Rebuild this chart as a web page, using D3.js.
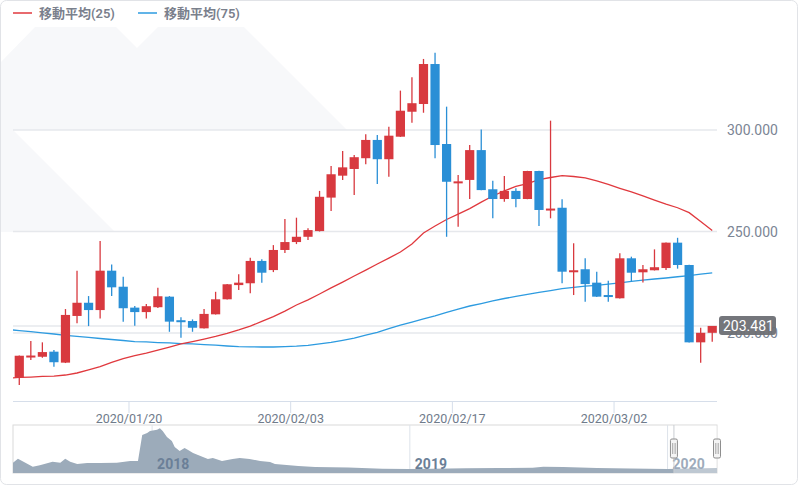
<!DOCTYPE html>
<html>
<head>
<meta charset="utf-8">
<script src="https://cdn.jsdelivr.net/npm/d3@7"></script>
<style>
    body { margin: 0; background: #ffffff; }
    svg { display: block; font-family: "Helvetica Neue", Roboto, "Noto Sans CJK JP", sans-serif; }
</style>
</head>
<body>
<script>
// daily candles, 2020/01/10 - 2020/03/10
const dates = [
    "2020-01-10", "2020-01-11", "2020-01-12", "2020-01-13", "2020-01-14", "2020-01-15", "2020-01-16", "2020-01-17",
    "2020-01-18", "2020-01-19", "2020-01-20", "2020-01-21", "2020-01-22", "2020-01-23", "2020-01-24", "2020-01-25",
    "2020-01-26", "2020-01-27", "2020-01-28", "2020-01-29", "2020-01-30", "2020-01-31",
    "2020-02-01", "2020-02-02", "2020-02-03", "2020-02-04", "2020-02-05", "2020-02-06", "2020-02-07", "2020-02-08",
    "2020-02-09", "2020-02-10", "2020-02-11", "2020-02-12", "2020-02-13", "2020-02-14", "2020-02-15", "2020-02-16",
    "2020-02-17", "2020-02-18", "2020-02-19", "2020-02-20", "2020-02-21", "2020-02-22", "2020-02-23", "2020-02-24",
    "2020-02-25", "2020-02-26", "2020-02-27", "2020-02-28", "2020-02-29",
    "2020-03-01", "2020-03-02", "2020-03-03", "2020-03-04", "2020-03-05", "2020-03-06", "2020-03-07", "2020-03-08",
    "2020-03-09", "2020-03-10"
];
const opens = [
    178.0, 188.4, 188.3, 190.8, 185.4, 208.4, 214.9, 211.3, 230.7, 222.8,
    212.5, 210.3, 212.7, 217.9, 206.3, 205.9, 202.3, 209.2, 216.6, 223.6,
    224.5, 235.5, 231.0, 240.9, 244.8, 247.4, 250.2, 266.7, 277.5, 280.8,
    286.1, 295.1, 285.6, 296.7, 309.0, 312.8, 332.5, 293.1, 274.4, 275.4,
    290.1, 270.8, 266.0, 270.0, 266.0, 279.8, 260.8, 261.7, 230.5, 231.4,
    224.8, 218.7, 217.1, 236.8, 229.9, 230.9, 232.0, 244.5, 233.5, 195.4,
    200.1
];
const highs = [
    188.9, 196.0, 195.4, 191.6, 211.8, 230.7, 218.2, 245.3, 233.8, 227.7,
    213.3, 214.3, 222.3, 218.2, 207.7, 206.7, 211.8, 220.3, 224.1, 228.9,
    237.1, 236.3, 243.3, 256.2, 256.8, 251.6, 270.0, 282.3, 289.7, 287.7,
    297.9, 297.5, 301.6, 319.4, 326.0, 335.0, 338.1, 311.5, 277.8, 292.6,
    300.3, 275.0, 277.3, 271.3, 279.9, 279.9, 304.6, 265.9, 244.2, 236.8,
    230.2, 225.8, 239.3, 237.6, 233.5, 241.2, 244.6, 246.9, 233.6, 202.6,
    203.5
];
const lows = [
    174.4, 186.7, 187.8, 183.4, 185.2, 204.8, 203.4, 207.2, 218.2, 205.6,
    203.6, 207.2, 212.3, 200.6, 197.7, 200.6, 202.2, 209.1, 216.5, 221.2,
    219.6, 224.8, 230.0, 239.4, 243.8, 245.8, 250.0, 260.1, 275.4, 268.0,
    283.1, 273.4, 277.0, 296.6, 303.6, 308.5, 286.1, 247.4, 252.4, 266.0,
    270.3, 256.5, 264.7, 261.9, 265.9, 252.7, 256.5, 224.5, 218.7, 215.4,
    217.7, 215.4, 217.0, 225.3, 224.9, 230.8, 231.0, 231.7, 195.3, 185.4,
    195.7
];
const closes = [
    188.8, 188.9, 190.6, 185.6, 208.9, 214.9, 211.3, 230.7, 222.5, 212.2,
    210.3, 213.2, 218.1, 205.6, 205.9, 202.6, 209.4, 216.6, 224.0, 224.8,
    235.5, 229.7, 240.9, 244.8, 247.4, 250.7, 267.1, 278.2, 281.6, 286.6,
    295.1, 285.6, 297.2, 309.5, 313.2, 332.5, 292.6, 274.5, 274.7, 290.1,
    270.4, 266.0, 270.0, 266.0, 279.8, 260.6, 261.3, 230.2, 230.9, 224.1,
    217.9, 218.2, 236.8, 229.7, 231.4, 232.4, 244.5, 233.5, 195.4, 200.1,
    203.481
];

// moving averages start one day earlier (line runs in from the left edge)
const maDates = ["2020-01-09"].concat(dates);
const ma25 = [
    177.8, 178.1, 178.3, 178.6, 178.8, 179.3, 180.3, 181.8, 183.4, 185.5,
    187.4, 188.9, 190.1, 191.6, 193.1, 194.6, 195.8, 197.0, 198.3, 199.8,
    201.5, 203.4, 205.7, 208.1, 210.8, 213.8, 216.3, 219.2, 222.2, 225.1,
    228.1, 231.0, 234.0, 236.9, 239.9, 243.8, 249.3, 252.7, 255.9, 258.6,
    261.3, 264.5, 267.5, 270.0, 272.2, 273.6, 275.6, 276.6, 277.5, 277.1,
    276.4, 274.9, 273.2, 271.3, 269.5, 267.5, 265.5, 263.5, 261.7, 259.3,
    254.9, 250.5
];
const ma75 = [
    201.7, 201.2, 200.7, 200.1, 199.5, 198.8, 198.3, 197.8, 197.3, 196.8,
    196.3, 195.8, 195.6, 195.3, 195.1, 194.8, 194.6, 194.3, 194.0, 193.6,
    193.3, 193.2, 193.1, 193.1, 193.3, 193.5, 193.9, 194.6, 195.4, 196.4,
    197.5, 198.9, 200.3, 202.1, 203.9, 205.4, 206.9, 208.4, 210.1, 211.8,
    213.3, 214.5, 215.8, 217.0, 218.0, 219.0, 220.0, 220.9, 221.9, 222.5,
    223.1, 223.5, 224.1, 224.7, 225.4, 226.0, 226.6, 227.1, 227.7, 228.3,
    229.0, 229.6
];

const legendLabels = ["移動平均(25)", "移動平均(75)"];
const xTickDates = ["2020-01-20", "2020-02-03", "2020-02-17", "2020-03-02"];
const yTickValues = [200, 250, 300];
const lastPrice = 203.481;

// navigator (long history)
const navDates = [
    "2017-06-18", "2017-06-25", "2017-07-16", "2017-07-26", "2017-08-13", "2017-08-24", "2017-08-31", "2017-09-07",
    "2017-09-17", "2017-10-01", "2017-10-19", "2017-11-12", "2017-12-01", "2017-12-12", "2017-12-18", "2017-12-25",
    "2017-12-29", "2018-01-08", "2018-01-12", "2018-01-16", "2018-01-22", "2018-01-29", "2018-02-02", "2018-02-09",
    "2018-02-16", "2018-02-21", "2018-02-28", "2018-03-07", "2018-03-14", "2018-03-21", "2018-03-28", "2018-04-10",
    "2018-04-25", "2018-05-05", "2018-05-19", "2018-06-03", "2018-06-17", "2018-06-24", "2018-07-27", "2018-08-20",
    "2018-10-06", "2018-11-23", "2018-12-30", "2019-02-02", "2019-03-21", "2019-05-07", "2019-06-24", "2019-07-09",
    "2019-08-06", "2019-09-23", "2019-11-09", "2020-01-01", "2020-02-02", "2020-03-11"
];
const navValues = [
    309, 429, 189, 231, 339, 309, 429, 339,
    270, 300, 300, 309, 360, 360, 1140, 1200,
    1260, 1299, 1341, 1260, 1080, 960, 780, 660,
    750, 690, 600, 540, 480, 420, 450, 360,
    420, 450, 420, 360, 330, 270, 210, 180,
    165, 129, 120, 129, 141, 150, 159, 189,
    180, 150, 135, 120, 135, 150
];
const navYears = ["2018-01-01", "2019-01-01", "2020-01-01"];
const navRange = ["2020-01-10", "2020-03-11"];

let chartHelper = (function () {
    const parse = d3.timeParse("%Y-%m-%d");
    const red = "#d8393f";
    const blue = "#2a8fd6";
    const plot = { left: 13, right: 718, top: 27, bottom: 401 };
    let svg = {};

    function init() {
        svg = d3.select("body").append("svg")
            .attr("width", 800)
            .attr("height", 486);
    }

    function draw() {
        const candles = dates.map((d, i) => ({
            date: parse(d), o: opens[i], h: highs[i], l: lows[i], c: closes[i]
        }));

        const x = d3.scaleTime()
            .domain([parse(dates[0]), d3.timeDay.offset(parse(dates[dates.length - 1]), 1)])
            .range([13.5, 718]);
        const y = d3.scaleLinear().domain([200, 300]).range([333, 130]);
        const mid = d => x(d3.timeHour.offset(d, 12));

        // card + faint background shapes
        svg.append("rect")
            .attr("x", 0.5).attr("y", 0.5)
            .attr("width", 797).attr("height", 484)
            .attr("rx", 6)
            .style("fill", "#ffffff")
            .style("stroke", "#e1e3e7");

        svg.append("path")
            .attr("d", "M1,62 L35,27 L116,27 L137,48 L158,27 L244,27 L347,130 L13,130 L115,232 L1,232 Z")
            .style("fill", "#f7f8fa");

        let clip = svg.append("clipPath").attr("id", "plotClip")
            .append("rect")
            .attr("x", plot.left).attr("y", plot.top)
            .attr("width", plot.right - plot.left).attr("height", plot.bottom - plot.top);

        // grid
        svg.selectAll(".grid")
            .data(yTickValues)
            .enter()
            .append("line")
            .attr("x1", plot.left).attr("x2", 717)
            .attr("y1", d => y(d)).attr("y2", d => y(d))
            .style("stroke", "#e6e8ec")
            .style("stroke-width", 1.5);

        svg.append("line")
            .attr("x1", plot.left).attr("x2", 717)
            .attr("y1", y(lastPrice)).attr("y2", y(lastPrice))
            .style("stroke", "#e6e8ec")
            .style("stroke-width", 1.5);

        svg.selectAll(".ylabel")
            .data(yTickValues)
            .enter()
            .append("text")
            .attr("x", 727)
            .attr("y", d => y(d))
            .attr("dy", "0.36em")
            .style("font-size", "14px")
            .style("fill", "#7b8594")
            .text(d => d3.format(".3f")(d));

        let g = svg.append("g").attr("clip-path", "url(#plotClip)");

        // moving averages
        const line = d3.line()
            .x(d => mid(d.date))
            .y(d => y(d.v));
        const ma25Data = maDates.map((d, i) => ({ date: parse(d), v: ma25[i] }));
        const ma75Data = maDates.map((d, i) => ({ date: parse(d), v: ma75[i] }));

        g.append("path").datum(ma75Data)
            .attr("d", line)
            .style("fill", "none")
            .style("stroke", "#2d9be0")
            .style("stroke-width", 1.3);
        g.append("path").datum(ma25Data)
            .attr("d", line)
            .style("fill", "none")
            .style("stroke", "#e0393e")
            .style("stroke-width", 1.3);

        // candles
        let candle = g.selectAll(".candle")
            .data(candles)
            .enter()
            .append("g")
            .attr("class", "candle");

        candle.append("line")
            .attr("x1", d => mid(d.date)).attr("x2", d => mid(d.date))
            .attr("y1", d => y(d.h)).attr("y2", d => y(d.l))
            .style("stroke", d => d.c >= d.o ? red : blue)
            .style("stroke-width", 1.3);

        candle.append("rect")
            .attr("x", d => mid(d.date) - 4.6)
            .attr("width", 9.2)
            .attr("y", d => Math.min(y(d.o), y(d.c)))
            .attr("height", d => Math.max(2, Math.abs(y(d.o) - y(d.c))))
            .style("fill", d => d.c >= d.o ? red : blue);

        // last price tag
        svg.append("rect")
            .attr("x", 719).attr("y", y(lastPrice) - 10)
            .attr("width", 57).attr("height", 19)
            .attr("rx", 3)
            .style("fill", "#6d6f74")
            .style("opacity", 0.95);
        svg.append("text")
            .attr("x", 723).attr("y", y(lastPrice))
            .attr("dy", "0.36em")
            .style("font-size", "14px")
            .style("fill", "#ffffff")
            .text(d3.format(".3f")(lastPrice));

        // legend
        const legendColors = ["#e0393e", "#2d9be0"];
        const legendX = [13, 138];
        legendLabels.forEach((label, i) => {
            svg.append("line")
                .attr("x1", legendX[i]).attr("x2", legendX[i] + 19)
                .attr("y1", 13).attr("y2", 13)
                .style("stroke", legendColors[i])
                .style("stroke-width", 1.5);
            svg.append("text")
                .attr("x", legendX[i] + 26).attr("y", 18)
                .style("font-size", "13px")
                .style("font-weight", 600)
                .style("fill", "#7a808c")
                .text(label);
        });

        // x axis
        svg.append("line")
            .attr("x1", plot.left).attr("x2", 717)
            .attr("y1", 401.5).attr("y2", 401.5)
            .style("stroke", "#d6deea");
        const ticks = xTickDates.map(parse);
        svg.selectAll(".xtick")
            .data(ticks)
            .enter()
            .append("line")
            .attr("x1", d => x(d)).attr("x2", d => x(d))
            .attr("y1", 401).attr("y2", 413)
            .style("stroke", "#d6deea");
        svg.selectAll(".xlabel")
            .data(ticks)
            .enter()
            .append("text")
            .attr("x", d => x(d))
            .attr("y", 423)
            .attr("text-anchor", "middle")
            .style("font-size", "12.5px")
            .style("fill", "#6f7b8b")
            .text(d3.timeFormat("%Y/%m/%d"));

        drawNavigator();
    }

    function drawNavigator() {
        const box = { left: 13, right: 717, top: 425, bottom: 473 };
        const nx = d3.scaleTime()
            .domain([parse(navDates[0]), parse(navDates[navDates.length - 1])])
            .range([box.left, box.right]);
        const ny = d3.scaleLinear().domain([0, 1350]).range([box.bottom, 428]);
        const navData = navDates.map((d, i) => ({ date: parse(d), v: navValues[i] }));

        svg.append("rect")
            .attr("x", box.left).attr("y", box.top)
            .attr("width", box.right - box.left).attr("height", box.bottom - box.top)
            .style("fill", "#ffffff")
            .style("stroke", "#dadada");

        svg.selectAll(".yearline")
            .data(navYears.map(parse))
            .enter()
            .append("line")
            .attr("x1", d => nx(d)).attr("x2", d => nx(d))
            .attr("y1", box.top).attr("y2", box.bottom)
            .style("stroke", "#dde3ea");

        svg.append("path").datum(navData)
            .attr("d", d3.area()
                .x(d => nx(d.date))
                .y0(box.bottom)
                .y1(d => ny(d.v)))
            .style("fill", "#9cabba");

        svg.selectAll(".yearlabel")
            .data(navYears.map(parse))
            .enter()
            .append("text")
            .attr("x", d => nx(d) + 5)
            .attr("y", 469)
            .style("font-size", "14px")
            .style("font-weight", 700)
            .style("fill", "#6b7f97")
            .text(d3.timeFormat("%Y"));

        // selected range
        const s0 = nx(parse(navRange[0]));
        const s1 = nx(parse(navRange[1]));
        svg.append("rect")
            .attr("x", s0).attr("y", box.top + 0.5)
            .attr("width", s1 - s0).attr("height", box.bottom - box.top)
            .style("fill", "#ffffff")
            .style("opacity", 0.35);
        svg.append("line")
            .attr("x1", s0).attr("x2", s0)
            .attr("y1", box.top).attr("y2", box.bottom)
            .style("stroke", "#c9cdd3");

        [s0, s1].forEach(sx => {
            svg.append("rect")
                .attr("x", sx - 3.5).attr("y", 439)
                .attr("width", 7).attr("height", 19)
                .attr("rx", 1.5)
                .style("fill", "#f4f4f4")
                .style("stroke", "#8e8e8e");
            [-1.2, 1.2].forEach(off => {
                svg.append("line")
                    .attr("x1", sx + off).attr("x2", sx + off)
                    .attr("y1", 443).attr("y2", 454)
                    .style("stroke", "#8e8e8e")
                    .style("stroke-width", 0.8);
            });
        });
    }

    return {
        init: init,
        draw: draw
    }
})();

chartHelper.init();
chartHelper.draw();
</script>
</body>
</html>
